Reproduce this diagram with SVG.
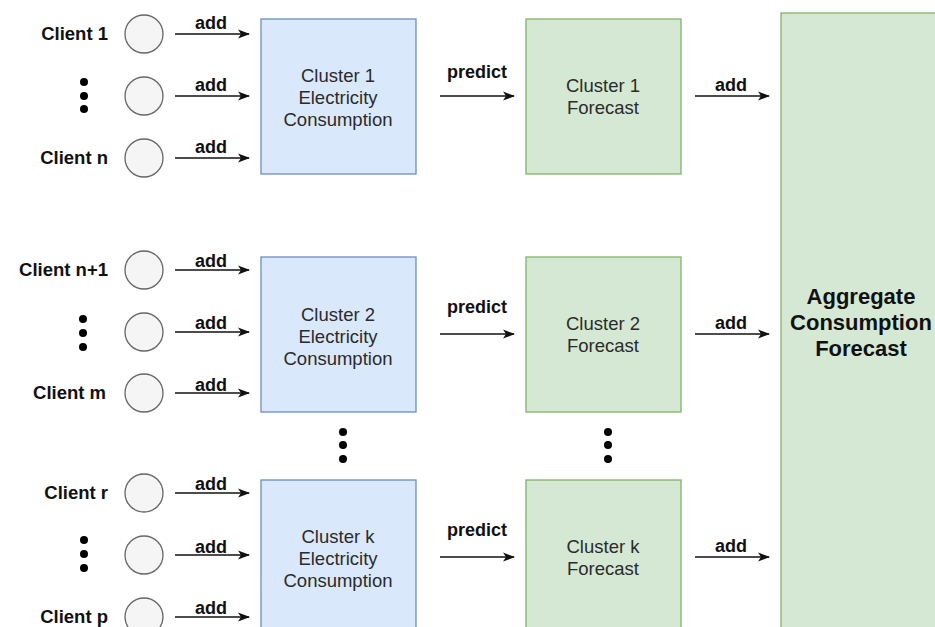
<svg xmlns="http://www.w3.org/2000/svg" width="935" height="627" viewBox="0 0 935 627">
<defs>
<style>
.client{fill:#f5f5f5;stroke:#666666;stroke-width:1.3}
.blue{fill:#dae8fc;stroke:#6c8ebf;stroke-width:1.3}
.green{fill:#d5e8d4;stroke:#82b366;stroke-width:1.3}
.lbl{font-family:"Liberation Sans",Arial,sans-serif;font-weight:bold;font-size:18.5px;fill:#111;text-anchor:end}
.edge{font-family:"Liberation Sans",Arial,sans-serif;font-weight:bold;font-size:18px;fill:#111;text-anchor:middle}
.box{font-family:"Liberation Sans",Arial,sans-serif;font-size:18.5px;fill:#2b2b2b;text-anchor:middle}
.agg{font-family:"Liberation Sans",Arial,sans-serif;font-weight:bold;font-size:22px;fill:#111;text-anchor:middle}
.conn{stroke:#111;stroke-width:1.6;fill:none;marker-end:url(#arr)}
.dot{fill:#000}
</style>
<marker id="arr" viewBox="0 0 12 10" refX="11" refY="5" markerWidth="12" markerHeight="10" markerUnits="userSpaceOnUse" orient="auto">
<path d="M0,0.5 L12,5 L0,9.5 L3,5 Z" fill="#111"/>
</marker>
</defs>
<rect width="935" height="627" fill="#fff"/>

<!-- Clients group 1 -->
<g id="client1"><circle class="client" cx="144" cy="34" r="19"/><text class="lbl" x="108" y="40">Client 1</text></g>
<g id="client1b"><circle class="client" cx="144" cy="96" r="19"/><circle class="dot" cx="84" cy="82" r="4"/><circle class="dot" cx="84" cy="96" r="4"/><circle class="dot" cx="84" cy="109" r="4"/></g>
<g id="clientn"><circle class="client" cx="144" cy="158" r="19"/><text class="lbl" x="108" y="164">Client n</text></g>

<!-- Clients group 2 -->
<g id="clientn1"><circle class="client" cx="144" cy="270" r="19"/><text class="lbl" x="108" y="276">Client n+1</text></g>
<g id="client2b"><circle class="client" cx="144" cy="332" r="19"/><circle class="dot" cx="83" cy="319" r="4"/><circle class="dot" cx="83" cy="333" r="4"/><circle class="dot" cx="83" cy="347" r="4"/></g>
<g id="clientm"><circle class="client" cx="144" cy="393" r="19"/><text class="lbl" x="106" y="399">Client m</text></g>

<!-- Clients group 3 -->
<g id="clientr"><circle class="client" cx="144" cy="493" r="19"/><text class="lbl" x="108" y="499">Client r</text></g>
<g id="client3b"><circle class="client" cx="144" cy="555" r="19"/><circle class="dot" cx="84" cy="540" r="4"/><circle class="dot" cx="84" cy="554" r="4"/><circle class="dot" cx="84" cy="568" r="4"/></g>
<g id="clientp"><circle class="client" cx="144" cy="617" r="19"/><text class="lbl" x="108" y="623">Client p</text></g>

<!-- Cluster consumption boxes -->
<g id="cluster1"><rect class="blue" x="261" y="19" width="155" height="155"/>
<text class="box" x="338" y="82">Cluster 1</text><text class="box" x="338" y="104">Electricity</text><text class="box" x="338" y="126">Consumption</text></g>
<g id="cluster2"><rect class="blue" x="261" y="257" width="155" height="155"/>
<text class="box" x="338" y="321">Cluster 2</text><text class="box" x="338" y="343">Electricity</text><text class="box" x="338" y="365">Consumption</text></g>
<g id="clusterk"><rect class="blue" x="261" y="480" width="155" height="160"/>
<text class="box" x="338" y="543">Cluster k</text><text class="box" x="338" y="565">Electricity</text><text class="box" x="338" y="587">Consumption</text></g>
<g id="dots-blue"><circle class="dot" cx="343" cy="432" r="4"/><circle class="dot" cx="343" cy="445" r="4"/><circle class="dot" cx="343" cy="459" r="4"/></g>

<!-- Forecast boxes -->
<g id="forecast1"><rect class="green" x="526" y="19" width="155" height="155"/>
<text class="box" x="603" y="92">Cluster 1</text><text class="box" x="603" y="114">Forecast</text></g>
<g id="forecast2"><rect class="green" x="526" y="257" width="155" height="155"/>
<text class="box" x="603" y="330">Cluster 2</text><text class="box" x="603" y="352">Forecast</text></g>
<g id="forecastk"><rect class="green" x="526" y="480" width="155" height="160"/>
<text class="box" x="603" y="553">Cluster k</text><text class="box" x="603" y="575">Forecast</text></g>
<g id="dots-green"><circle class="dot" cx="608" cy="432" r="4"/><circle class="dot" cx="608" cy="445" r="4"/><circle class="dot" cx="608" cy="459" r="4"/></g>

<!-- Aggregate -->
<g id="aggregate"><rect class="green" x="781" y="13" width="170" height="630"/>
<text class="agg" x="861" y="304">Aggregate</text><text class="agg" x="861" y="330">Consumption</text><text class="agg" x="861" y="356">Forecast</text></g>

<!-- Connectors -->
<g id="connectors">
<path class="conn" d="M175,34 H249"/><text class="edge" x="211" y="29">add</text>
<path class="conn" d="M175,96 H249"/><text class="edge" x="211" y="91">add</text>
<path class="conn" d="M175,158 H249"/><text class="edge" x="211" y="153">add</text>
<path class="conn" d="M175,270 H249"/><text class="edge" x="211" y="267">add</text>
<path class="conn" d="M175,332 H249"/><text class="edge" x="211" y="329">add</text>
<path class="conn" d="M175,393 H249"/><text class="edge" x="211" y="391">add</text>
<path class="conn" d="M175,493 H249"/><text class="edge" x="211" y="490">add</text>
<path class="conn" d="M175,555 H249"/><text class="edge" x="211" y="553">add</text>
<path class="conn" d="M175,617 H249"/><text class="edge" x="211" y="614">add</text>

<path class="conn" d="M440,96 H514"/><text class="edge" x="477" y="78">predict</text>
<path class="conn" d="M440,334 H514"/><text class="edge" x="477" y="313">predict</text>
<path class="conn" d="M440,557 H514"/><text class="edge" x="477" y="536">predict</text>

<path class="conn" d="M695,96 H769"/><text class="edge" x="731" y="91">add</text>
<path class="conn" d="M695,334 H769"/><text class="edge" x="731" y="329">add</text>
<path class="conn" d="M695,557 H769"/><text class="edge" x="731" y="552">add</text>
</g>
</svg>
